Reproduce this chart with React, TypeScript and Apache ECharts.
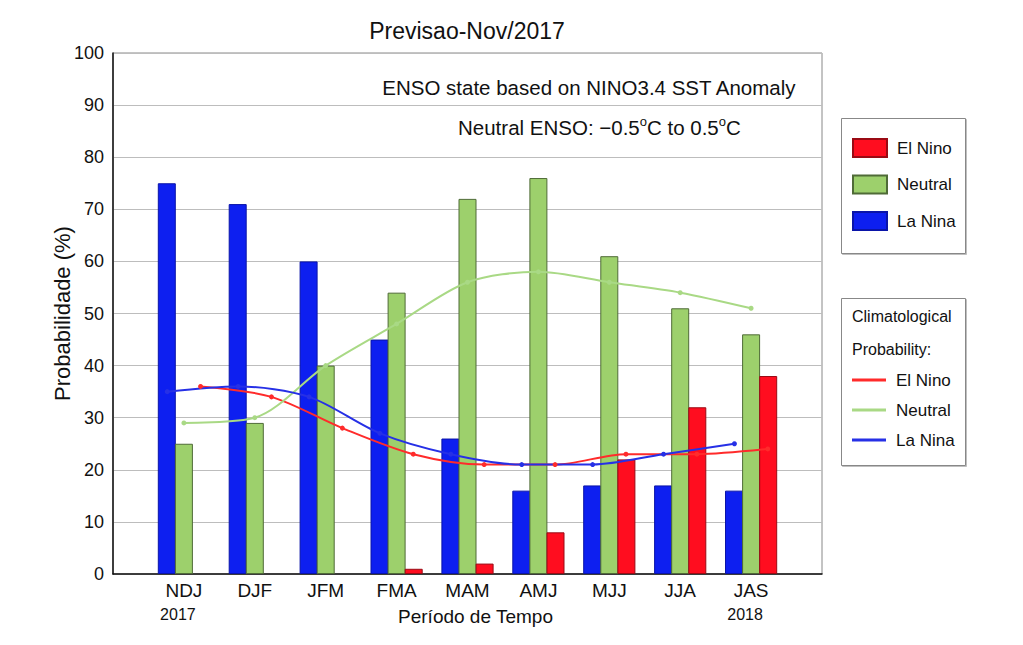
import React, { useEffect, useRef } from 'react';
import * as echarts from 'echarts';

const categories = ['NDJ', 'DJF', 'JFM', 'FMA', 'MAM', 'AMJ', 'MJJ', 'JJA', 'JAS'];
const elNino = [0, 0, 0, 1, 2, 8, 22, 32, 38];
const neutral = [25, 29, 40, 54, 72, 76, 61, 51, 46];
const laNina = [75, 71, 60, 45, 26, 16, 17, 17, 16];
const climElNino = [36, 34, 28, 23, 21, 21, 23, 23, 24];
const climNeutral = [29, 30, 40, 48, 56, 58, 56, 54, 51];
const climLaNina = [35, 36, 34, 27, 23, 21, 21, 23, 25];
const firstYear = '2017';
const lastYear = '2018';

const FONT = 'Liberation Sans';
const RED = '#ff0d1f';
const GREEN = '#9dd06c';
const BLUE = '#0d1ff0';
const LRED = '#ff2b2b';
const LGREEN = '#a9d985';
const LBLUE = '#2630e6';

// zero-height bars are not drawn in the reference
const padded = (arr: number[]) => ['-', ...arr.map((v) => (v === 0 ? '-' : v)), '-'];
const shifted = (arr: number[], off: number) => arr.map((v, i) => [i + 1 + off, v]);

export default function App() {
  const ref = useRef<HTMLDivElement>(null);
  useEffect(() => {
    const chart = echarts.init(ref.current!, null, { renderer: 'svg' });
    const barBase = {
      type: 'bar',
      xAxisIndex: 0,
      yAxisIndex: 0,
      barWidth: 18,
      barGap: '-5%',
      z: 2,
    };
    const lineBase = {
      type: 'line',
      xAxisIndex: 1,
      yAxisIndex: 0,
      smooth: 0.3,
      symbol: 'circle',
      symbolSize: 5,
      z: 5,
    };
    const legendText = { fontFamily: FONT, fontSize: 17, lineHeight: 18, color: '#111', padding: [0, 0, 0, 5] };
    const option: any = {
      animation: false,
      backgroundColor: '#ffffff',
      textStyle: { fontFamily: FONT },
      title: {
        text: 'Previsao-Nov/2017',
        left: 462,
        top: 14,
        textAlign: 'center',
        textStyle: { fontFamily: FONT, fontSize: 23, fontWeight: 'normal', color: '#111' },
      },
      grid: {
        left: 113,
        top: 53,
        width: 709,
        height: 521,
        show: true,
        borderColor: '#888',
        borderWidth: 1,
        backgroundColor: 'transparent',
        containLabel: false,
        outerBoundsMode: 'none',
      },
      legend: [
        {
          data: ['El Nino', 'Neutral', 'La Nina'],
          orient: 'vertical',
          left: 852,
          top: 138,
          padding: 0,
          itemWidth: 34,
          itemHeight: 18,
          itemGap: 16.5,
          icon: 'rect',
          selectedMode: false,
          textStyle: legendText,
        },
        {
          data: ['El Nino ', 'Neutral ', 'La Nina '],
          orient: 'vertical',
          left: 852,
          top: 371,
          padding: 0,
          itemWidth: 34,
          itemHeight: 3,
          itemGap: 12,
          icon: 'rect',
          selectedMode: false,
          textStyle: legendText,
        },
      ],
      xAxis: [
        {
          type: 'category',
          data: ['', ...categories, ''],
          boundaryGap: false,
          axisLine: { lineStyle: { color: '#111', width: 1.5 } },
          axisTick: { show: false },
          splitLine: { show: false },
          axisLabel: {
            margin: 4,
            fontFamily: FONT,
            fontSize: 19,
            lineHeight: 24,
            color: '#111',
            interval: 0,
            formatter: (v: string, i: number) => {
              if (i === 1) return v + '\n{y|' + firstYear + '}';
              if (i === categories.length) return v + '\n{y|' + lastYear + '}';
              return v;
            },
            rich: { y: { fontFamily: FONT, fontSize: 16, lineHeight: 24, color: '#111', padding: [0, 12, 0, 0] } },
          },
          name: 'Período de Tempo',
          nameLocation: 'middle',
          nameGap: 33,
          nameMoveOverlap: false,
          nameTextStyle: { fontFamily: FONT, fontSize: 19, color: '#111', padding: [0, 0, 0, 16] },
        },
        {
          type: 'value',
          min: 0,
          max: 10,
          show: false,
          splitLine: { show: false },
        },
      ],
      yAxis: {
        type: 'value',
        min: 0,
        max: 100,
        interval: 10,
        axisLine: { show: true, lineStyle: { color: '#111', width: 1.5 } },
        axisTick: { show: false },
        splitLine: { lineStyle: { color: '#bdbdbd', width: 1 } },
        axisLabel: { margin: 9, fontFamily: FONT, fontSize: 18, color: '#111' },
        name: 'Probabilidade (%)',
        nameLocation: 'middle',
        nameGap: 40,
        nameMoveOverlap: false,
        nameTextStyle: { fontFamily: FONT, fontSize: 22, color: '#111' },
      },
      graphic: [
        {
          type: 'text',
          right: 1023 - 797,
          top: 77,
          style: { text: 'ENSO state based on NINO3.4 SST Anomaly', font: '20.5px "Liberation Sans"', fill: '#111' },
        },
        {
          type: 'text',
          left: 458,
          top: 115,
          style: {
            text: '{n|Neutral ENSO: −0.5}{s|o}{n|C to 0.5}{s|o}{n|C}',
            fill: '#111',
            rich: {
              n: { fontFamily: FONT, fontSize: 20.5, lineHeight: 24, fill: '#111' },
              s: { fontFamily: FONT, fontSize: 13, lineHeight: 24, verticalAlign: 'top', padding: [0, 0, 8, 0], fill: '#111' },
            },
          },
        },
        {
          type: 'rect',
          shape: { x: 841.5, y: 118.5, width: 124, height: 135 },
          style: { fill: '#fff', stroke: '#888', lineWidth: 1, shadowColor: 'rgba(0,0,0,0.25)', shadowOffsetX: 1, shadowOffsetY: 1, shadowBlur: 1 },
          z: -1,
        },
        {
          type: 'rect',
          shape: { x: 841.5, y: 298.5, width: 124, height: 167 },
          style: { fill: '#fff', stroke: '#888', lineWidth: 1, shadowColor: 'rgba(0,0,0,0.25)', shadowOffsetX: 1, shadowOffsetY: 1, shadowBlur: 1 },
          z: -1,
        },
        {
          type: 'text',
          left: 852,
          top: 308,
          style: { text: 'Climatological', font: '16px "Liberation Sans"', fill: '#111' },
        },
        {
          type: 'text',
          left: 852,
          top: 341,
          style: { text: 'Probability:', font: '16px "Liberation Sans"', fill: '#111' },
        },
      ],
      series: [
        {
          ...barBase,
          name: 'La Nina',
          data: padded(laNina),
          itemStyle: { color: BLUE, borderColor: '#0a14a8', borderWidth: 1 },
        },
        {
          ...barBase,
          name: 'Neutral',
          data: padded(neutral),
          itemStyle: { color: GREEN, borderColor: '#4f6b37', borderWidth: 1 },
        },
        {
          ...barBase,
          name: 'El Nino',
          data: padded(elNino),
          itemStyle: { color: RED, borderColor: '#9a0a14', borderWidth: 1 },
        },
        {
          ...lineBase,
          name: 'El Nino ',
          data: shifted(climElNino, 0.235),
          itemStyle: { color: LRED },
          lineStyle: { color: LRED, width: 2 },
        },
        {
          ...lineBase,
          name: 'Neutral ',
          data: shifted(climNeutral, 0),
          itemStyle: { color: LGREEN },
          lineStyle: { color: LGREEN, width: 2 },
        },
        {
          ...lineBase,
          name: 'La Nina ',
          data: shifted(climLaNina, -0.235),
          itemStyle: { color: LBLUE },
          lineStyle: { color: LBLUE, width: 2 },
        },
      ],
    };
    chart.setOption(option);
    return () => chart.dispose();
  }, []);
  return (
    <div
      ref={ref}
      style={{ position: 'fixed', left: 0, top: 0, width: 1023, height: 645, background: '#fff' }}
    />
  );
}
